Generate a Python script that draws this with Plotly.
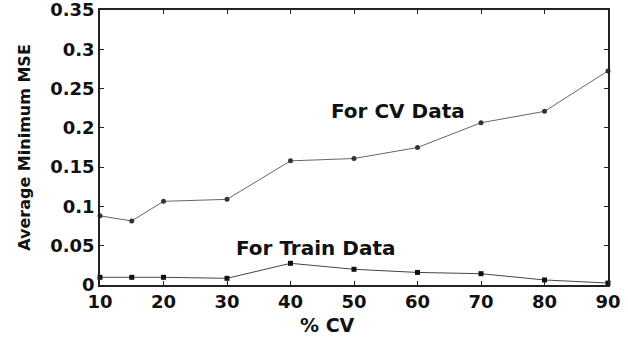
import plotly.graph_objects as go

cv_pct = [10, 15, 20, 30, 40, 50, 60, 70, 80, 90]
mse_cv = [0.088, 0.0815, 0.1065, 0.109, 0.158, 0.161, 0.175, 0.2065, 0.221, 0.2725]
mse_train = [0.0098, 0.0098, 0.0098, 0.0085, 0.0276, 0.020, 0.016, 0.0144, 0.0064, 0.0025]

x_ticks = [10, 20, 30, 40, 50, 60, 70, 80, 90]
x_ticktext = ["<b>10</b>", "<b>20</b>", "<b>30</b>", "<b>40</b>", "<b>50</b>",
              "<b>60</b>", "<b>70</b>", "<b>80</b>", "<b>90</b>"]
y_ticks = [0, 0.05, 0.1, 0.15, 0.2, 0.25, 0.3, 0.35]
y_ticktext = ["<b>0</b>", "<b>0.05</b>", "<b>0.1</b>", "<b>0.15</b>", "<b>0.2</b>",
              "<b>0.25</b>", "<b>0.3</b>", "<b>0.35</b>"]

font_fam = "DejaVu Sans, Arial, sans-serif"

fig = go.Figure()
fig.add_trace(go.Scatter(
    x=cv_pct, y=mse_cv, mode="lines+markers",
    line=dict(color="#666666", width=1),
    marker=dict(symbol="circle", size=5, color="#333333"),
    cliponaxis=False, name="CV"))
fig.add_trace(go.Scatter(
    x=cv_pct, y=mse_train, mode="lines+markers",
    line=dict(color="#444444", width=1),
    marker=dict(symbol="square", size=5, color="#111111"),
    cliponaxis=False, name="Train"))

fig.add_annotation(x=56.9, y=0.2215, text="<b>For CV Data</b>", showarrow=False,
                   font=dict(family=font_fam, size=20, color="#111111"))
fig.add_annotation(x=43.9, y=0.047, text="<b>For Train Data</b>", showarrow=False,
                   font=dict(family=font_fam, size=20, color="#111111"))
fig.add_annotation(x=0.447, y=-0.145, xref="paper", yref="paper", text="<b>% CV</b>",
                   xanchor="center", yanchor="middle",
                   showarrow=False, font=dict(family=font_fam, size=19, color="#111111"))

fig.update_layout(
    width=628, height=339,
    margin=dict(l=100, r=20, t=10, b=54),
    paper_bgcolor="white", plot_bgcolor="white",
    showlegend=False,
    xaxis=dict(range=[10, 90], tickvals=x_ticks, ticktext=x_ticktext, ticks="inside", ticklen=4,
               tickcolor="#222222", showgrid=False, zeroline=False, automargin=False,
               showline=True, linecolor="#222222", linewidth=1.5, mirror="ticks",
               ticklabeloverflow="allow",
               tickfont=dict(family=font_fam, size=18, color="#111111")),
    yaxis=dict(range=[0, 0.35], tickvals=y_ticks, ticktext=y_ticktext, ticks="inside",
               ticklen=4, tickcolor="#222222", showgrid=False, zeroline=False, automargin=False,
               showline=True, linecolor="#222222", linewidth=1.5, mirror="ticks",
               ticklabeloverflow="allow",
               tickfont=dict(family=font_fam, size=18, color="#111111"),
               title=dict(text="<b>Average Minimum MSE</b>", standoff=16,
                          font=dict(family=font_fam, size=16, color="#111111"))),
)

fig.write_html("out.html", config={"displayModeBar": False},
               post_script="document.body.style.margin='0';")
